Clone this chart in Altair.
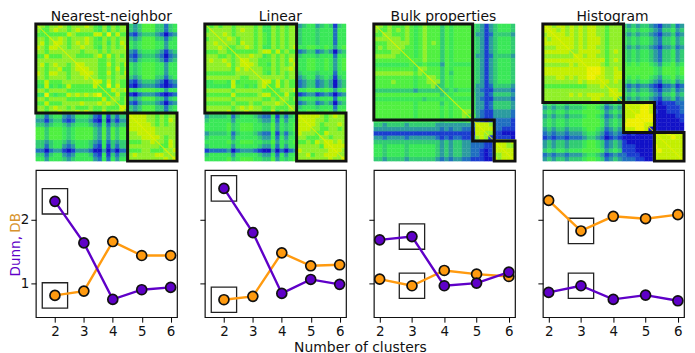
import altair as alt
import pandas as pd

N = 32
TITLES = ["Nearest-neighbor", "Linear", "Bulk properties", "Histogram"]
TITLE_DX = [5, 5, -1, -1]
CLUSTERS = [[0, 20.8, 32], [0, 20.8, 32], [0, 22.4, 27.3, 32], [0, 18.3, 25.3, 32]]
K = [2, 3, 4, 5, 6]
DUNN = [
    [2.295, 1.637, 0.742, 0.895, 0.932],
    [2.50, 1.80, 0.837, 1.058, 0.98],
    [1.684, 1.737, 0.958, 1.00, 1.174],
    [0.853, 0.958, 0.742, 0.81, 0.72],
]
DB = [
    [0.805, 0.874, 1.658, 1.437, 1.437],
    [0.737, 0.79, 1.479, 1.274, 1.29],
    [1.063, 0.958, 1.20, 1.142, 1.105],
    [2.31, 1.826, 2.058, 2.02, 2.084],
]
BEST_K = [2, 2, 3, 3]
X_DOMAINS = [[1.34, 6.22], [1.34, 6.22], [1.82, 6.19], [1.82, 6.19]]

# Upper triangles of the similarity maps, coarse levels 0-9.
# Every row ends at the last column; blanks only separate the clusters.
MAP1 = [
    "976778767778765757677 43466644245",
    "96787767877765757677 43466644245",
    "9666687666688696866 21344432023",
    "978767778765767677 43466644245",
    "98767878766757687 54566655355",
    "9767787765767678 54566655355",
    "977767776767777 32455543134",
    "97666678686767 21344432023",
    "9777776676777 32455543134",
    "987776686768 54566655355",
    "98776676867 54566655355",
    "9876686768 54566655355",
    "976676777 43466644245",
    "98686766 21344432023",
    "9696866 10233321012",
    "968778 54566655355",
    "96866 10233321012",
    "9767 43466644245",
    "967 21344432023",
    "98 43466644245",
    "9 43466644245",
    "98887767677",
    "9887767687",
    "988767677",
    "98877777",
    "9877777",
    "987677",
    "97687",
    "9687",
    "978",
    "97",
    "9",
]
MAP2 = [
    "967677677776755767677 34553454145",
    "97777678776755767677 45554555255",
    "9787677776765767677 45554555255",
    "978767776765767677 45554555255",
    "97768776765767677 45554555255",
    "9677876755767678 55665565356",
    "966666788686766 23442343034",
    "97787756767677 45554555255",
    "9877666767687 55665565356",
    "987665767678 55665565356",
    "97766767787 55665565356",
    "9765767677 45554555255",
    "977777677 34553454145",
    "98686766 23442343034",
    "9686766 23442343034",
    "967778 55665565356",
    "96865 12331232023",
    "9767 45554555255",
    "966 23442343034",
    "97 45554555255",
    "9 55665565356",
    "98888767877",
    "9887767777",
    "987677787",
    "97667767",
    "9687777",
    "976777",
    "98787",
    "9888",
    "987",
    "97",
    "9",
]
MAP3 = [
    "9767666765 67666465 66665 4313 45554",
    "967676765 67666465 66665 4313 45554",
    "97666765 67666465 66665 3312 44443",
    "9776765 67666465 66665 4313 45554",
    "977765 67676465 66665 4313 45554",
    "97665 67666465 66665 4313 45554",
    "9665 67666465 66665 4313 45554",
    "965 67666465 66665 3312 44443",
    "96 67666465 66665 4313 45554",
    "9 56555365 55555 4313 45554",
    "9 7666465 66665 4313 45554",
    "9 666464 66665 4313 45554",
    "9 76465 66665 4313 45554",
    "9 7465 66665 4313 45554",
    "9 465 66665 3312 44443",
    "9 45 45554 3211 33332",
    "9 5 66665 3312 44443",
    "9 55555 3211 33332",
    "96665 3312 44443",
    "9665 3312 44443",
    "975 3211 33332",
    "96 3211 33332",
    "9 2101 22221",
    "9887 22221",
    "988 22111",
    "97 11000",
    "9 11110",
    "98878",
    "9877",
    "988",
    "98",
    "9",
]
MAP4 = [
    "987887878788776777 4343443 2133423",
    "98787878788776777 5454554 3244534",
    "9887878788776777 4343443 2133423",
    "988878788876777 5454554 3244534",
    "98878788876777 5454554 3244534",
    "9878788776777 4343443 2133423",
    "978888876787 5454554 3244534",
    "98788776777 5454554 3244534",
    "9888886787 5454554 3244534",
    "988876777 6565665 4355645",
    "99987787 6666666 5466656",
    "9987788 6666666 5466656",
    "987788 6565665 4355645",
    "98787 5454554 3244534",
    "9777 3232332 1022312",
    "987 4343443 2133423",
    "98 5454554 3244534",
    "9 4343443 2133423",
    "9888898 1011122",
    "988998 0001112",
    "98998 1001112",
    "9999 0000011",
    "999 0000001",
    "98 0000000",
    "9 0000000",
    "9889888",
    "988988",
    "98888",
    "9888",
    "988",
    "98",
    "9",
]
MAPS = [MAP1, MAP2, MAP3, MAP4]

LEVELS = [str(i) for i in range(10)]
LEVEL_COLORS = ["#1212c8", "#1a3ed0", "#2070c0", "#2c9ca0", "#32cc74",
                "#3ae858", "#50f040", "#90f028", "#c4f000", "#eef000"]
PURPLE = "#5f00c8"
ORANGE = "#ff9a0f"
FONT = "DejaVu Sans"


def cells(rows):
    out = {}
    for i, row in enumerate(rows):
        digits = row.replace(" ", "")
        for k, ch in enumerate(reversed(digits)):
            j = N - 1 - k
            if i == j:  # the diagonal itself is drawn as a thin line further on
                ch = digits[1] if len(digits) > 1 else "8"
            out[(i, j)] = ch
            out[(j, i)] = ch
    return pd.DataFrame(
        [{"c": j, "c2": j + 1, "r": i, "r2": i + 1, "v": v} for (i, j), v in out.items()]
    )


def heat(p):
    xs = alt.Scale(domain=[0, N], nice=False, zero=False)
    ys = alt.Scale(domain=[N, 0], nice=False, zero=False)
    color = alt.Scale(domain=LEVELS, range=LEVEL_COLORS)
    base = (
        alt.Chart(cells(MAPS[p]))
        .mark_rect(strokeWidth=0.4)
        .encode(
            x=alt.X("c:Q", scale=xs, axis=None),
            x2="c2:Q",
            y=alt.Y("r:Q", scale=ys, axis=None),
            y2="r2:Q",
            fill=alt.Fill("v:N", scale=color, legend=None),
            stroke=alt.Stroke("v:N", scale=color, legend=None),
        )
    )
    diagonal = (
        alt.Chart(pd.DataFrame({"a": [0, N]}))
        .mark_line(color="#e4f000", strokeWidth=1.1, opacity=0.85)
        .encode(
            x=alt.X("a:Q", scale=xs, axis=None),
            y=alt.Y("a:Q", scale=ys, axis=None),
        )
    )
    b = CLUSTERS[p]
    boxes = pd.DataFrame({"a": b[:-1], "z": b[1:]})
    frames = (
        alt.Chart(boxes)
        .mark_rect(filled=False, stroke="#111111", strokeWidth=3)
        .encode(
            x=alt.X("a:Q", scale=xs, axis=None),
            x2="z:Q",
            y=alt.Y("a:Q", scale=ys, axis=None),
            y2="z:Q",
        )
    )
    return alt.layer(base, diagonal, frames).properties(
        width=142,
        height=138,
        title=alt.TitleParams(
            TITLES[p], font=FONT, fontSize=14, fontWeight="normal", color="#111111",
            anchor="middle", dx=TITLE_DX[p], offset=-2,
        ),
    )


def lines(p):
    xs = alt.Scale(domain=X_DOMAINS[p], nice=False, zero=False)
    ys = alt.Scale(domain=[0.46, 2.79], nice=False, zero=False)
    x_axis = dict(values=K, grid=False, domain=False, tickSize=5, tickColor="black",
                  labelFont=FONT, labelFontSize=13.5, labelColor="#111111", labelPadding=2,
                  format="d", labelAngle=0, title=None)
    if p == 1:
        x_axis.update(title="Number of clusters", titleFont=FONT, titleFontSize=14,
                      titleFontWeight="normal", titleColor="#111111",
                      titleX=156, titleY=34.2, titleBaseline="alphabetic", titleAnchor="middle")
    y_axis = dict(values=[1, 2], grid=False, domain=False, tickSize=5, tickColor="black",
                  labelFont=FONT, labelFontSize=13.5, labelColor="#111111", labelPadding=2,
                  format="d", title=None, labels=p == 0)
    x = alt.X("k:Q", scale=xs, axis=alt.Axis(**x_axis))
    y = alt.Y("v:Q", scale=ys, axis=alt.Axis(**y_axis))
    layers = []
    best = pd.DataFrame(
        {"k": [BEST_K[p]] * 2,
         "v": [DB[p][BEST_K[p] - 2], DUNN[p][BEST_K[p] - 2]]}
    )
    layers.append(
        alt.Chart(best)
        .mark_point(shape="square", filled=False, size=650, stroke="#222222", strokeWidth=1.3,
                    opacity=1)
        .encode(x=x, y=y)
    )
    for series, col in ((DB[p], ORANGE), (DUNN[p], PURPLE)):
        d = pd.DataFrame({"k": K, "v": series})
        layers.append(alt.Chart(d).mark_line(color=col, strokeWidth=2.4).encode(x=x, y=y))
        layers.append(
            alt.Chart(d)
            .mark_point(filled=True, fill=col, stroke="#111111", strokeWidth=1.7, size=100, opacity=1)
            .encode(x=x, y=y)
        )
    if p == 0:
        for txt, col, pos in (("Dunn,", PURPLE, 107), ("DB", "#d8922c", 63)):
            layers.append(
                alt.Chart(pd.DataFrame({"t": [txt]}))
                .mark_text(angle=270, align="left", baseline="alphabetic", font=FONT,
                           fontSize=13.6, color=col)
                .encode(x=alt.value(-16), y=alt.value(pos), text="t:N")
            )
    return alt.layer(*layers).properties(
        width=142, height=148,
        view=alt.ViewBackground(stroke="#111111", strokeWidth=1.2),
    )


chart = (
    alt.concat(
        *[heat(p) for p in range(4)],
        *[lines(p) for p in range(4)],
        columns=4,
        spacing={"row": 9, "column": 28},
        bounds="flush",
    )
    .resolve_scale(x="independent", y="independent", color="independent")
    .configure_view(stroke=None)
    .properties(padding=0)
)

chart.save("out.html", embed_options={"renderer": "svg", "actions": False})
